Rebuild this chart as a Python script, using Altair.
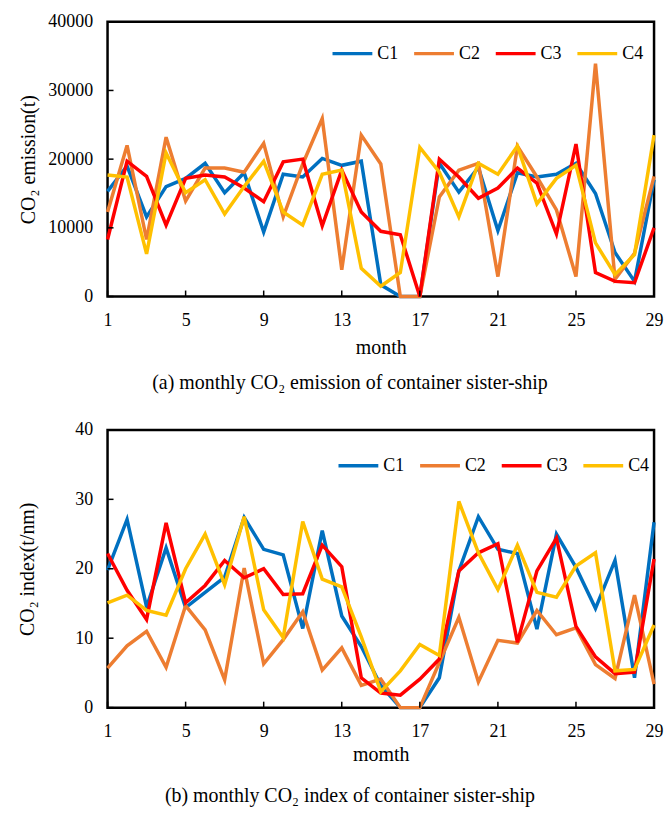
import altair as alt
import pandas as pd

months = list(range(1, 30))
series = ["C1", "C2", "C3", "C4"]
colors = ["#0070C0", "#ED7D31", "#FF0000", "#FFC000"]

# (a) monthly CO2 emission (t)
emis_c1 = [15300, 19000, 11600, 16000, 17200, 19400, 15100, 18000, 9400, 17800,
           17400, 20100, 19100, 19700, 1700, 0, 0, 19400, 15200, 18800,
           9600, 18000, 17400, 17800, 19400, 15000, 6400, 2200, 17000]
emis_c2 = [12300, 22000, 8300, 23200, 13900, 18700, 18700, 18100, 22300, 11600,
           19300, 25900, 3900, 23500, 19300, 0, 0, 14500, 18400, 19400,
           2900, 21900, 17400, 12600, 2900, 33900, 2500, 6300, 17500]
emis_c3 = [8300, 19700, 17500, 10400, 17200, 17700, 17400, 15800, 13800, 19600,
           20000, 10300, 18400, 12300, 9500, 9000, 0, 20000, 17400, 14300,
           15800, 18700, 16500, 9100, 22200, 3500, 2200, 2000, 10000]
emis_c4 = [17700, 17400, 6200, 20900, 15100, 17000, 12000, 16000, 19700, 12300,
           10400, 17800, 18400, 4100, 1500, 3500, 21700, 18100, 11600, 19400,
           17800, 21900, 13500, 17200, 19100, 7800, 3200, 6100, 23500]

# (b) monthly CO2 index (t/nm)
idx_c1 = [19.8, 27.1, 14.5, 23.0, 14.4, 16.6, 18.8, 27.4, 22.8, 22.0,
          11.4, 25.5, 13.2, 8.8, 3.2, 0, 0, 4.3, 19.7, 27.5,
          22.8, 22.2, 11.3, 25.0, 20.2, 14.3, 21.2, 4.3, 26.7]
idx_c2 = [5.7, 8.9, 11.0, 5.8, 14.7, 11.2, 4.0, 20.1, 6.3, 9.8,
          13.8, 5.4, 8.6, 3.2, 4.1, 0, 0, 6.5, 13.0, 3.7,
          9.7, 9.3, 14.0, 10.5, 11.5, 6.2, 4.2, 16.2, 3.4]
idx_c3 = [22.2, 16.9, 12.7, 26.6, 15.1, 17.6, 21.2, 18.7, 20.0, 16.3,
          16.4, 23.4, 20.3, 4.3, 2.1, 1.8, 4.1, 7.0, 19.7, 22.3,
          23.6, 9.4, 19.7, 24.4, 11.7, 7.3, 4.9, 5.1, 21.4]
idx_c4 = [15.1, 16.2, 14.0, 13.3, 20.0, 25.0, 17.7, 27.5, 14.1, 10.1,
          26.8, 18.5, 17.4, 10.2, 2.3, 5.3, 9.1, 7.5, 29.7, 22.3,
          17.0, 23.4, 16.6, 15.9, 20.4, 22.3, 5.3, 5.5, 11.9]

x_ticks = [1, 5, 9, 13, 17, 21, 25, 29]
y_ticks_a = [0, 10000, 20000, 30000, 40000]
y_ticks_b = [0, 10, 20, 30, 40]

FONT = "Liberation Serif"


def to_long(lists):
    rows = []
    for name, vals in zip(series, lists):
        for m, v in zip(months, vals):
            rows.append({"month": m, "ship": name, "value": v})
    return pd.DataFrame(rows)


def panel(df, yticks, ymax, ytitle, ytp, xtitle, xtp, caption, coff, W, H, lx, ly):
    xs = alt.Scale(domain=[1, 29], nice=False, zero=False)
    ys = alt.Scale(domain=[0, ymax], nice=False)
    x = alt.X("month:Q", scale=xs,
              axis=alt.Axis(values=x_ticks, title=xtitle, grid=False, ticks=False,
                            domain=False, labelPadding=15, titlePadding=xtp,
                            labelFontSize=18, titleFontSize=20, labelFont=FONT,
                            titleFont=FONT, labelColor="black", titleColor="black",
                            titleFontWeight="normal", labelFlush=False))
    y = alt.Y("value:Q", scale=ys,
              axis=alt.Axis(values=yticks, format="d", title=ytitle, grid=False,
                            ticks=False, domain=False, labelPadding=15,
                            titlePadding=ytp, labelFontSize=18, titleFontSize=20,
                            labelFont=FONT, titleFont=FONT, labelColor="black",
                            titleColor="black", titleFontWeight="normal"))
    lines = alt.Chart(df).mark_line(strokeWidth=3.5).encode(
        x=x, y=y,
        color=alt.Color("ship:N", scale=alt.Scale(domain=series, range=colors),
                        legend=alt.Legend(orient="none", legendX=lx, legendY=ly,
                                          direction="horizontal", title=None,
                                          symbolType="stroke", symbolSize=1600,
                                          symbolStrokeWidth=3.5, labelFontSize=18,
                                          labelFont=FONT, labelColor="black",
                                          labelOffset=3, columnPadding=8,
                                          padding=0)),
    )
    xt = alt.Chart(pd.DataFrame({"month": x_ticks})).mark_rule(
        color="black", strokeWidth=1.5).encode(
        x=alt.X("month:Q"), y=alt.value(H), y2=alt.value(H - 6))
    yt = alt.Chart(pd.DataFrame({"value": yticks})).mark_rule(
        color="black", strokeWidth=1.5).encode(
        y=alt.Y("value:Q"), x=alt.value(0), x2=alt.value(6))
    return alt.layer(lines, xt, yt).properties(
        width=W, height=H,
        title=alt.TitleParams(caption, orient="bottom", anchor="middle", frame="group",
                              dx=-31, offset=coff, fontSize=20, font=FONT,
                              fontWeight="normal", color="black"),
    )


top = panel(to_long([emis_c1, emis_c2, emis_c3, emis_c4]), y_ticks_a, 40000,
            "CO₂ emission(t)", 9, "month", 8,
            "(a) monthly CO₂ emission of container sister-ship", 16,
            549, 276, 224, 10)
bottom = panel(to_long([idx_c1, idx_c2, idx_c3, idx_c4]), y_ticks_b, 40,
               "CO₂ index(t/nm)", 37, "momth", 4,
               "(b) monthly CO₂ index of container sister-ship", 22,
               549, 279, 230, 14)

chart = alt.vconcat(top, bottom, spacing=24).resolve_scale(
    color="independent", x="independent", y="independent"
).resolve_legend(color="independent").properties(
    padding={"left": 8, "top": 1, "right": -1, "bottom": -1}
).configure_view(
    stroke="black", strokeWidth=2.5
)

chart.save("out.html", embed_options={"renderer": "svg", "actions": False})
